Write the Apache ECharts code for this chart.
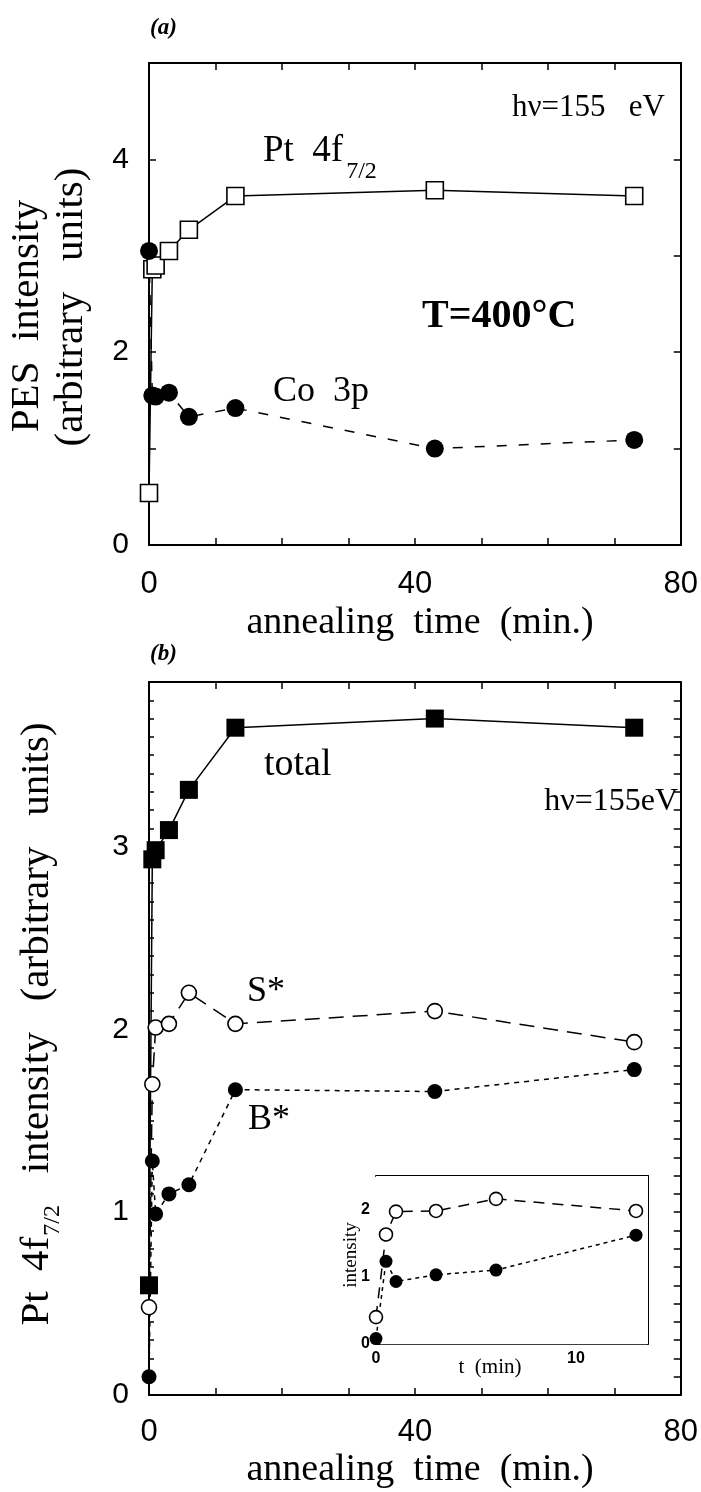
<!DOCTYPE html>
<html><head><meta charset="utf-8">
<script src="https://cdn.jsdelivr.net/npm/echarts/dist/echarts.min.js"></script>
<style>html,body{margin:0;padding:0;background:#fff}#c{width:701px;height:1492px}</style>
</head><body><div id="c"></div>
<script>
// ---- data ----
const timeMain = [0, 0.5, 1, 3, 6, 13, 43, 73];
const ptA      = [0.54, 2.86, 2.9, 3.05, 3.27, 3.62, 3.68, 3.62];
const coA      = [3.05, 1.55, 1.54, 1.58, 1.33, 1.42, 1.0, 1.09];
const totalB   = [0.6, 2.93, 2.98, 3.09, 3.31, 3.65, 3.7, 3.65];
const sStarB   = [0.48, 1.7, 2.01, 2.03, 2.2, 2.03, 2.1, 1.93];
const bStarB   = [0.1, 1.28, 0.99, 1.1, 1.15, 1.67, 1.66, 1.78];
const timeInset  = [0, 0.5, 1, 3, 6, 13];
const sStarInset = [0.4, 1.63, 1.97, 1.98, 2.16, 1.98];
const bStarInset = [0.08, 1.23, 0.93, 1.03, 1.1, 1.62];
const xTickLabelsMain  = [0, 40, 80];
const yTickLabelsA     = [0, 2, 4];
const yTickLabelsB     = [0, 1, 2, 3];
const xTickLabelsInset = [0, 10];
const yTickLabelsInset = [0, 1, 2];

const pairs = (xs, ys) => xs.map((x, i) => [x, ys[i]]);
const only = list => v => list.some(t => Math.abs(t - v) < 1e-6) ? String(Math.round(v)) : '';

const SERIF = '"Liberation Serif", "Times New Roman", serif';
const SANS = '"Liberation Sans", Arial, sans-serif';

function axis(o) {
  return Object.assign({
    type: 'value',
    axisLine: { show: true, onZero: false, lineStyle: { color: '#000', width: 2 } },
    axisTick: { show: true, inside: true, length: 7, lineStyle: { color: '#000', width: 1.5 } },
    splitLine: { show: false },
    axisLabel: { show: false }
  }, o);
}
function labels(fmt, size, margin, bold) {
  return { show: true, formatter: fmt, color: '#000', fontFamily: SANS, fontSize: size, margin: margin, fontWeight: bold ? 'bold' : 'normal', showMinLabel: true, showMaxLabel: true };
}
const thin = { show: true, onZero: false, lineStyle: { color: '#000', width: 1.5 } };
const smallTick = { show: true, inside: true, length: 4, lineStyle: { color: '#000', width: 1 } };

const xAxis = [
  axis({ gridIndex: 0, position: 'bottom', min: 0, max: 80, interval: 10, axisLabel: labels(only(xTickLabelsMain), 31, 24) }),
  axis({ gridIndex: 0, position: 'top', min: 0, max: 80, interval: 10 }),
  axis({ gridIndex: 1, position: 'bottom', min: 0, max: 80, interval: 10, axisLabel: labels(only(xTickLabelsMain), 31, 22) }),
  axis({ gridIndex: 1, position: 'top', min: 0, max: 80, interval: 10 }),
  axis({ gridIndex: 2, position: 'bottom', min: 0, max: 13.6, interval: 2, axisLine: thin, axisTick: smallTick, axisLabel: labels(only(xTickLabelsInset), 16, 7, true) }),
  axis({ gridIndex: 2, position: 'top', min: 0, max: 13.6, interval: 2, axisLine: { show: true, onZero: false, lineStyle: { color: '#000', width: 2 } }, axisTick: smallTick })
];
const yAxis = [
  axis({ gridIndex: 0, position: 'left', min: 0, max: 5, interval: 1, axisLabel: labels(only(yTickLabelsA), 30, 20) }),
  axis({ gridIndex: 0, position: 'right', min: 0, max: 5, interval: 1 }),
  axis({ gridIndex: 1, position: 'left', min: 0, max: 3.9, interval: 0.1, axisTick: { show: true, inside: true, length: 5, lineStyle: { color: '#000', width: 1.5 } }, axisLabel: labels(only(yTickLabelsB), 30, 20) }),
  axis({ gridIndex: 1, position: 'right', min: 0, max: 3.9, interval: 0.1, axisTick: { show: true, inside: true, length: 7, lineStyle: { color: '#000', width: 1.5 } } }),
  axis({ gridIndex: 2, position: 'left', min: 0, max: 2.5, interval: 0.5, axisLine: { show: true, onZero: false, lineStyle: { color: '#000', width: 1 } }, axisTick: smallTick, axisLabel: labels(only(yTickLabelsInset), 16, 6, true) }),
  axis({ gridIndex: 2, position: 'right', min: 0, max: 2.5, interval: 0.5, axisLine: { show: true, onZero: false, lineStyle: { color: '#000', width: 2 } }, axisTick: { show: false } })
];

const grid = [
  { left: 149, top: 63, width: 532, height: 482 },
  { left: 149, top: 682, width: 532, height: 713 },
  { left: 376, top: 1176, width: 272, height: 168, show: true, backgroundColor: '#fff', borderWidth: 0, z: 5 }
];

function ser(name, xi, yi, data, symbol, size, filled, dash, z) {
  return {
    name, type: 'line', xAxisIndex: xi, yAxisIndex: yi, data, clip: false,
    symbol, symbolSize: size, showSymbol: true, animation: false, z: z || 2,
    lineStyle: { color: '#000', width: 1.5, type: dash },
    itemStyle: { color: filled ? '#000' : '#fff', borderColor: '#000', borderWidth: filled ? 0 : 1.6, opacity: 1 },
    emphasis: { disabled: true }
  };
}

const series = [
  ser('Pt 4f7/2', 0, 0, pairs(timeMain, ptA), 'rect', 17, false, 'solid'),
  ser('Co 3p', 0, 0, pairs(timeMain, coA), 'circle', 18, true, [10, 12]),
  ser('S*', 2, 2, pairs(timeMain, sStarB), 'circle', 15, false, [15, 9]),
  ser('B*', 2, 2, pairs(timeMain, bStarB), 'circle', 15, true, [5, 5]),
  ser('total', 2, 2, pairs(timeMain, totalB), 'rect', 18, true, 'solid'),
  ser('S* inset', 4, 4, pairs(timeInset, sStarInset), 'circle', 13, false, [11, 8], 10),
  ser('B* inset', 4, 4, pairs(timeInset, bStarInset), 'circle', 13, true, [4, 4], 10)
];

// text measuring for subscripts
const mctx = document.createElement('canvas').getContext('2d');
function tw(text, font) { mctx.font = font; return mctx.measureText(text).width; }

function txt(text, x, y, font, align, valign, extra) {
  return Object.assign({
    type: 'text', x, y, z: 20,
    style: { text, font, fill: '#000', textAlign: align || 'left', align: align || 'left', textVerticalAlign: valign || 'middle', verticalAlign: valign || 'middle' }
  }, extra || {});
}

const fTitle = '41px ' + SERIF;
const fSub = '24px ' + SERIF;

// panel b y title with subscript
const yb1 = 'Pt  4f', yb2 = '7/2', yb3 = '   intensity   (arbitrary   units)';
const w1 = tw(yb1, fTitle), w2 = tw(yb2, fSub), w3 = tw(yb3, fTitle);
const W = w1 + w2 + w3;
const ybGroup = {
  type: 'group', x: 37, y: 1025, rotation: Math.PI / 2, z: 20,
  children: [
    txt(yb1, -W / 2, 0, fTitle),
    txt(yb2, -W / 2 + w1 + 1, 16, fSub),
    txt(yb3, -W / 2 + w1 + w2 + 2, 0, fTitle)
  ]
};

const fPt = '37px ' + SERIF;
const ptMain = 'Pt  4f';
const ptW = tw(ptMain, fPt);

const graphic = [
  txt('(a)', 150, 28, 'italic bold 23px ' + SERIF),
  txt('(b)', 150, 654, 'italic bold 23px ' + SERIF),
  txt('PES  intensity', 27, 316, fTitle, 'center', 'middle', { rotation: Math.PI / 2 }),
  txt('(arbitrary   units)', 71, 307, fTitle, 'center', 'middle', { rotation: Math.PI / 2 }),
  ybGroup,
  txt('annealing  time  (min.)', 420, 623, '38px ' + SERIF, 'center'),
  txt('annealing  time  (min.)', 420, 1470, '38px ' + SERIF, 'center'),
  txt('h\u03bd=155   eV', 665, 108, '31px ' + SERIF, 'right'),
  txt(ptMain, 263, 151, fPt),
  txt('7/2', 263 + ptW + 3, 172, fSub),
  txt('T=400\u00b0C', 422, 317, 'bold 40px ' + SERIF),
  txt('Co  3p', 273, 392, '36px ' + SERIF),
  txt('total', 264, 765, '38px ' + SERIF),
  txt('h\u03bd=155eV', 678, 802, '32px ' + SERIF, 'right'),
  txt('S*', 247, 992, '36px ' + SERIF),
  txt('B*', 248, 1120, '36px ' + SERIF),
  txt('intensity', 351, 1255, '19px ' + SERIF, 'center', 'middle', { rotation: Math.PI / 2 }),
  txt('t  (min)', 490, 1367, '21px ' + SERIF, 'center')
];

const chart = echarts.init(document.getElementById('c'), null, { renderer: 'canvas' });
chart.setOption({
  animation: false,
  backgroundColor: '#fff',
  grid, xAxis, yAxis, series, graphic
});
</script></body></html>
